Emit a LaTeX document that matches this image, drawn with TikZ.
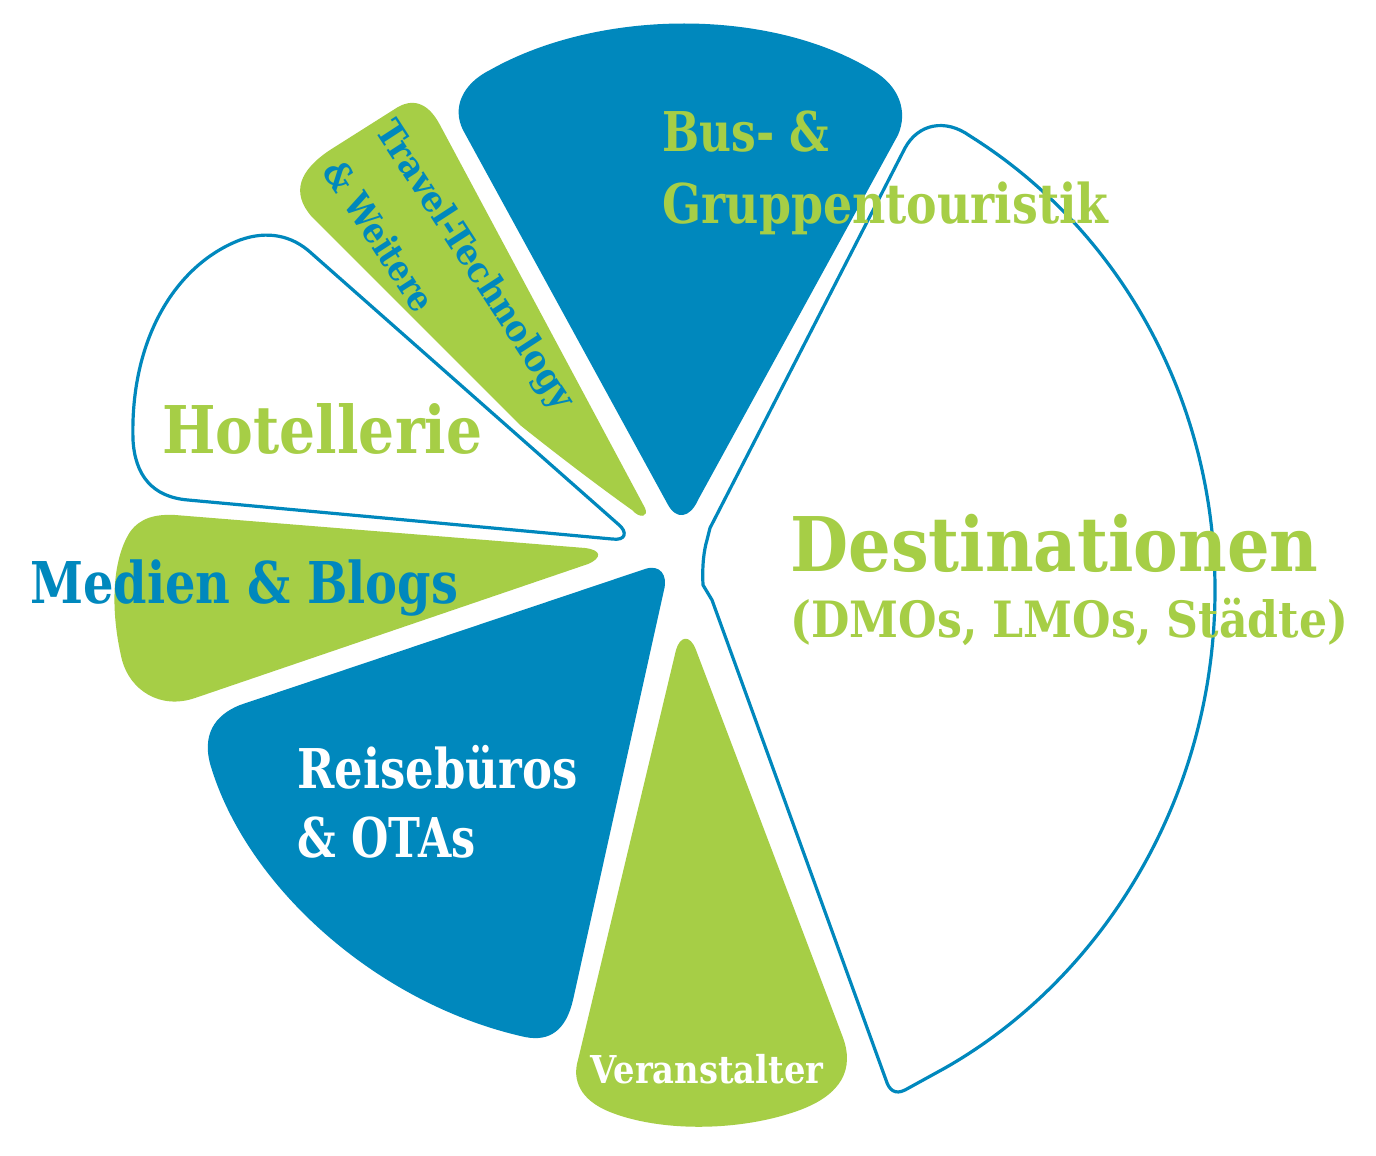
\documentclass[tikz,border=0pt]{standalone}
\usepackage{fontspec}
\setmainfont{DejaVu Serif}
\usepackage{graphicx}
\definecolor{cblue}{RGB}{0,136,189}
\definecolor{cgreen}{RGB}{166,206,70}
\newcommand{\fitw}[2]{\resizebox{#1}{\height}{#2}}
\begin{document}
\begin{tikzpicture}[x=0.5pt,y=-0.5pt,
  lbl/.style={inner sep=0pt, anchor=base west},
  outl/.style={draw=cblue, line width=1.6pt, fill=white, line join=round}]
\path[use as bounding box, fill=white] (0,0) rectangle (1376,1156);

% Bus- & Gruppentouristik
\fill[cblue] (667,503) -- (463,130) .. controls (452,108) and (462,84) .. (490,70)
  .. controls (600,8) and (770,8) .. (872,70) .. controls (900,86) and (908,112) .. (898,135)
  -- (698,500) .. controls (690,518) and (676,521) .. (667,503) -- cycle;
% Travel-Technology
\fill[cgreen] (645,508) -- (440,125) .. controls (430,106) and (416,97) .. (398,107)
  -- (330,150) .. controls (300,170) and (290,192) .. (312,217) -- (520,425)
  .. controls (570,465) and (615,498) .. (632,510) .. controls (640,519) and (649,517) .. (645,508) -- cycle;
% Hotellerie
\draw[outl] (310,252) -- (618,524) .. controls (628,532) and (626,541) .. (612,539)
  -- (188,500) .. controls (152,497) and (135,475) .. (133,440)
  .. controls (130,340) and (175,265) .. (240,240) .. controls (268,230) and (292,236) .. (310,252) -- cycle;
% Medien & Blogs
\fill[cgreen] (585,548) .. controls (602,550) and (602,558) .. (588,564) -- (195,698)
  .. controls (160,710) and (130,690) .. (122,660) .. controls (110,610) and (112,560) .. (130,532)
  .. controls (140,518) and (155,514) .. (175,515) -- cycle;
% Reisebueros
\fill[cblue] (645,569) .. controls (660,564) and (668,575) .. (664,590) -- (573,1000)
  .. controls (566,1030) and (550,1042) .. (525,1037) .. controls (380,1005) and (250,890) .. (212,770)
  .. controls (200,735) and (215,715) .. (240,705) -- cycle;
% Veranstalter
\fill[cgreen] (676,650) .. controls (680,636) and (690,634) .. (696,650) -- (842,1035)
  .. controls (856,1070) and (840,1095) .. (800,1110) .. controls (740,1132) and (660,1132) .. (610,1112)
  .. controls (580,1100) and (572,1080) .. (578,1060) -- cycle;
% Destinationen
\draw[outl] (710,528) -- (905,148) .. controls (918,124) and (945,118) .. (970,136)
  .. controls (1120,230) and (1215,400) .. (1215,590) .. controls (1215,800) and (1100,980) .. (945,1068)
  -- (905,1090) .. controls (895,1095) and (889,1090) .. (886,1080) -- (712,600)
  -- (703,585) .. controls (702,565) and (704,550) .. (707,540) -- cycle;

% Labels
\node[lbl, text=cgreen, font=\bfseries\fontsize{27.4}{30}\selectfont] (bus1) at (662,152) {\fitw{83.5pt}{Bus- \&}};
\node[lbl, text=cgreen, font=\bfseries\fontsize{27.4}{30}\selectfont] (bus2) at (662,223) {\fitw{223pt}{Gruppentouristik}};
\node[inner sep=0pt, rotate=-57, text=cblue, font=\bfseries\fontsize{18}{20}\selectfont] (tt1) at (474,266) {\fitw{168pt}{Travel-Technology}};
\node[inner sep=0pt, rotate=-57, text=cblue, font=\bfseries\fontsize{18}{20}\selectfont] (tt2) at (380,236) {\fitw{86pt}{\& Weitere}};
\node[lbl, text=cgreen, font=\bfseries\fontsize{32.9}{36}\selectfont] (hot) at (162,453) {\fitw{160pt}{Hotellerie}};
\node[lbl, text=cblue, font=\bfseries\fontsize{28.8}{32}\selectfont] (med) at (30,603) {\fitw{214pt}{Medien \& Blogs}};
\node[lbl, text=white, font=\bfseries\fontsize{27.4}{30}\selectfont] (rb1) at (297,788) {\fitw{140pt}{Reisebüros}};
\node[lbl, text=white, font=\bfseries\fontsize{27.4}{30}\selectfont] (rb2) at (297,857) {\fitw{89pt}{\& OTAs}};
\node[lbl, text=cgreen, font=\bfseries\fontsize{37.7}{40}\selectfont] (dst1) at (790,571) {\fitw{264pt}{Destinationen}};
\node[lbl, text=cgreen, font=\bfseries\fontsize{25}{28}\selectfont] (dst2) at (790,637) {\fitw{279pt}{(DMOs, LMOs, Städte)}};
\node[lbl, text=white, font=\bfseries\fontsize{19.2}{22}\selectfont] (ver) at (590,1083) {\fitw{116.5pt}{Veranstalter}};
\end{tikzpicture}
\end{document}
